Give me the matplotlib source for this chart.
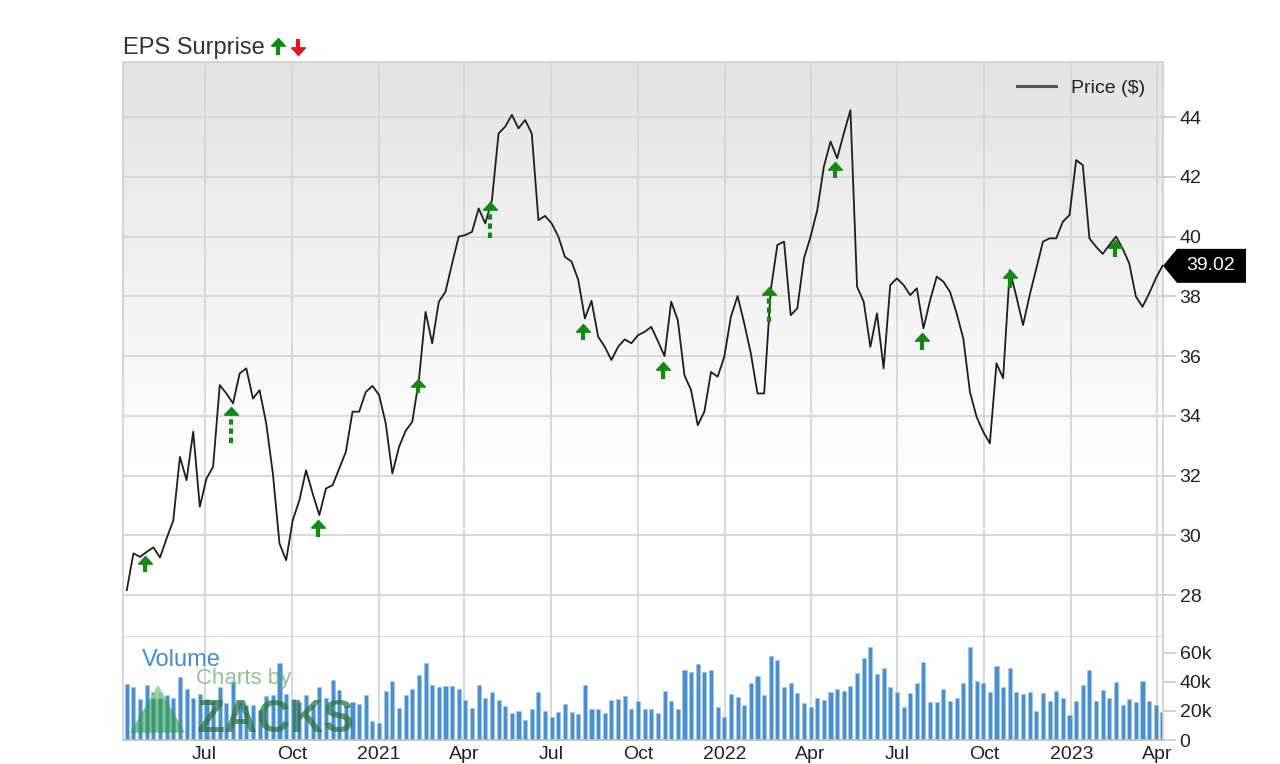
import numpy as np
import pandas as pd
import matplotlib
matplotlib.use('Agg')
import matplotlib.pyplot as plt
from matplotlib.patches import Polygon
from matplotlib.lines import Line2D
from matplotlib.transforms import IdentityTransform

plt.rcParams['font.family'] = ['Liberation Sans', 'DejaVu Sans']

# Cours hebdomadaire ($)
prix = [28.17, 29.40, 29.28, 29.45, 29.60, 29.26, 29.90, 30.50, 32.63, 31.85,
        33.47, 30.96, 31.90, 32.30, 35.03, 34.75, 34.42, 35.42, 35.59, 34.58,
        34.86, 33.75, 32.07, 29.73, 29.17, 30.51, 31.18, 32.18, 31.40, 30.68,
        31.57, 31.68, 32.24, 32.80, 34.14, 34.14, 34.80, 35.00, 34.70, 33.75,
        32.07, 32.96, 33.50, 33.80, 35.20, 37.48, 36.43, 37.82, 38.15, 39.10,
        40.00, 40.05, 40.16, 40.94, 40.44, 41.22, 43.45, 43.68, 44.07, 43.62,
        43.90, 43.45, 40.55, 40.69, 40.44, 40.00, 39.32, 39.16, 38.55, 37.26,
        37.85, 36.65, 36.31, 35.87, 36.31, 36.56, 36.43, 36.70, 36.81, 36.98,
        36.50, 36.00, 37.82, 37.20, 35.36, 34.86, 33.69, 34.14, 35.47, 35.31,
        35.98, 37.32, 38.01, 37.10, 36.09, 34.75, 34.75, 38.21, 39.72, 39.83,
        37.37, 37.60, 39.27, 40.00, 40.88, 42.34, 43.18, 42.62, 43.45, 44.23,
        38.32, 37.82, 36.31, 37.43, 35.59, 38.38, 38.60, 38.38, 38.04, 38.27,
        36.93, 37.87, 38.66, 38.49, 38.15, 37.43, 36.59, 34.80, 33.97, 33.47,
        33.08, 35.76, 35.26, 38.88, 37.99, 37.04, 38.04, 38.94, 39.83, 39.94,
        39.94, 40.50, 40.72, 42.56, 42.39, 39.94, 39.66, 39.42, 39.72, 40.00,
        39.60, 39.10, 37.99, 37.65, 38.10, 38.60, 39.02]

# Volume hebdomadaire (milliers)
volume_k = [38.4, 36.8, 28.3, 37.9, 33.3, 33.0, 31.0, 29.0, 43.7, 35.2,
            28.7, 31.7, 28.3, 27.0, 36.3, 25.7, 40.2, 26.0, 24.0, 24.0,
            20.7, 30.3, 31.0, 52.9, 32.0, 28.0, 26.0, 31.0, 24.0, 36.8,
            28.7, 41.4, 34.5, 23.7, 26.0, 24.8, 31.0, 13.3, 12.0, 33.8,
            40.9, 22.3, 31.0, 34.9, 44.8, 53.3, 37.7, 36.3, 37.2, 37.2,
            34.9, 27.6, 22.3, 37.7, 28.7, 33.3, 27.6, 23.7, 18.4, 20.2,
            13.8, 21.2, 33.3, 20.0, 16.0, 19.5, 24.8, 19.5, 17.9, 37.7,
            21.4, 21.4, 18.4, 27.6, 28.0, 30.6, 21.4, 26.9, 21.2, 21.2,
            18.4, 33.6, 27.1, 21.2, 48.3, 46.9, 52.4, 47.1, 48.3, 22.5,
            16.0, 31.7, 29.9, 24.1, 39.1, 44.4, 31.0, 58.2, 55.2, 36.8,
            39.1, 32.6, 25.3, 22.5, 29.2, 27.6, 33.3, 35.2, 33.8, 37.5,
            46.0, 56.3, 64.4, 45.3, 49.4, 36.3, 32.9, 23.0, 32.6, 39.1,
            54.0, 26.4, 26.4, 34.9, 26.9, 29.2, 39.1, 64.4, 40.9, 39.5,
            32.9, 51.0, 36.8, 49.9, 32.9, 31.5, 33.3, 20.0, 32.6, 26.9,
            34.0, 28.7, 17.2, 26.9, 37.9, 48.3, 26.9, 34.5, 28.7, 40.2,
            24.1, 28.0, 26.0, 40.7, 26.9, 24.1, 19.1]

dates = pd.date_range(end='2023-04-07', periods=len(prix), freq='7D')

# Surprises BPA (flèches vertes)
eps_dates = pd.to_datetime(['2020-04-29', '2020-07-29', '2020-10-29', '2021-02-11',
                            '2021-04-28', '2021-08-04', '2021-10-27', '2022-02-16',
                            '2022-04-27', '2022-07-27', '2022-10-28', '2023-02-16'])
eps_haut = [29.31, 34.30, 30.51, 35.25, 41.17, 37.09, 35.81, 38.32, 42.50, 36.76, 38.88, 39.88]
eps_bas = [28.78, 33.09, 29.95, 34.75, 39.94, 36.54, 35.25, 37.15, 41.95, 36.20, 38.27, 39.32]
eps_pointille = [False, True, False, False, True, False, False, True, False, False, False, False]

prix_ticks = [28, 30, 32, 34, 36, 38, 40, 42, 44]
vol_ticks = [0, 20, 40, 60]
vol_labels = ['0', '20k', '40k', '60k']
mois_ticks = pd.to_datetime(['2020-07-01', '2020-10-01', '2021-01-01', '2021-04-01',
                             '2021-07-01', '2021-10-01', '2022-01-01', '2022-04-01',
                             '2022-07-01', '2022-10-01', '2023-01-01', '2023-04-01'])
mois_labels = ['Jul', 'Oct', '2021', 'Apr', 'Jul', 'Oct', '2022', 'Apr', 'Jul', 'Oct', '2023', 'Apr']

vert = '#128a12'
gris_grille = '#d6d6d6'

# Marqueur triangle dont la pointe est à l'origine
tete = [(-1.0, -1.1), (1.0, -1.1), (0.0, 0.0), (-1.0, -1.1)]

fig = plt.figure(figsize=(12.8, 7.64), dpi=100)
ax = fig.add_axes([0.0961, 0.1662, 0.8125, 0.7526])
axv = fig.add_axes([0.0961, 0.0314, 0.8125, 0.1348], sharex=ax)

# Fond dégradé gris -> blanc
t = np.clip((np.linspace(0, 1, 300) - 0.3) / 0.7, 0, 1)
niveaux = 1 - t * (1 - 0.89)
rgb = np.dstack([niveaux, niveaux, niveaux]).reshape(-1, 1, 3)
ax.imshow(rgb, extent=(0, 1, 0, 1), transform=ax.transAxes, aspect='auto',
          origin='lower', zorder=0)

# Courbe du prix
ax.plot(dates, prix, color='#1e1e1e', lw=1.3, zorder=3, label='Price ($)')

# Flèches des surprises
for d, h, b, p in zip(eps_dates, eps_haut, eps_bas, eps_pointille):
    ls = (0, (1.3, 0.9)) if p else '-'
    ax.plot([d, d], [b, h - 0.2], color=vert, lw=3, ls=ls, solid_capstyle='butt', zorder=4)
    ax.plot([d], [h], marker=tete, markersize=11, color=vert, mec=vert, zorder=5)

ax.set_ylim(26.6, 45.84)
ax.set_xlim(pd.Timestamp('2020-04-06'), pd.Timestamp('2023-04-07 14:00'))
ax.set_yticks(prix_ticks)
ax.yaxis.tick_right()
ax.tick_params(axis='y', length=9, width=1.2, color='#c8c8c8', labelsize=14,
               labelcolor='#222222', pad=3)
ax.tick_params(axis='x', length=0, labelbottom=False)
ax.grid(True, color=gris_grille, lw=1.3)
ax.set_axisbelow(True)
for s in ax.spines.values():
    s.set_color('#cfcfcf')
    s.set_linewidth(1.2)

leg = ax.legend(loc='upper right', frameon=False, fontsize=14, handlelength=2.0,
                borderaxespad=0.5)
leg.get_lines()[0].set_color('#555555')
leg.get_lines()[0].set_linewidth(2.2)
for txt in leg.get_texts():
    txt.set_color('#222222')

# Volume
axv.bar(dates, volume_k, width=4.3, color='#4a8fd0', edgecolor='#9fc6ea', linewidth=0.5, zorder=2)
axv.set_ylim(0, 71)
axv.set_yticks(vol_ticks)
axv.set_yticklabels(vol_labels)
axv.yaxis.tick_right()
axv.tick_params(axis='y', length=9, width=1.2, color='#c8c8c8', labelsize=14,
                labelcolor='#222222', pad=3)
axv.set_xticks(mois_ticks)
axv.set_xticklabels(mois_labels)
axv.tick_params(axis='x', length=0, labelsize=14, labelcolor='#222222', pad=4)
axv.grid(True, axis='x', color=gris_grille, lw=1.3)
axv.set_axisbelow(True)
for s in axv.spines.values():
    s.set_color('#cfcfcf')
    s.set_linewidth(1.2)
axv.spines['top'].set_visible(False)
axv.spines['bottom'].set_color('#bdbdbd')

# Filigrane
axv.text(0.018, 0.78, 'Volume', transform=axv.transAxes, fontsize=17,
         color='#3f8fd2', va='center', zorder=6)
axv.text(0.07, 0.60, 'Charts by', transform=axv.transAxes, fontsize=16,
         color='#6fb06f', alpha=0.75, va='center', zorder=6)
axv.text(0.071, 0.08, 'ZACKS', transform=axv.transAxes, fontsize=33, fontweight='bold',
         color='#2a7436', alpha=0.72, va='baseline', zorder=6)
axv.add_patch(Polygon([(0.0067, 0.07), (0.0597, 0.07), (0.0337, 0.53)], closed=True,
                      transform=axv.transAxes, facecolor='#2f9e45', alpha=0.6,
                      edgecolor='none', zorder=6))
axv.add_patch(Polygon([(0.026, 0.40), (0.0414, 0.40), (0.0337, 0.53)], closed=True,
                      transform=axv.transAxes, facecolor='#a5dca5', alpha=0.7,
                      edgecolor='none', zorder=6))

# Titre et flèches de légende
fig.text(0.0961, 1 - 54 / 764, 'EPS Surprise', fontsize=17, color='#333333', va='baseline')
fig.add_artist(Line2D([277.5 / 1280, 277.5 / 1280], [1 - 55 / 764, 1 - 44 / 764],
                      transform=fig.transFigure, color=vert, lw=3, solid_capstyle='butt'))
fig.add_artist(Line2D([277.5 / 1280], [1 - 38 / 764], transform=fig.transFigure,
                      marker=tete, markersize=11, color=vert, mec=vert))
fig.add_artist(Line2D([298 / 1280, 298 / 1280], [1 - 39 / 764, 1 - 49 / 764],
                      transform=fig.transFigure, color='#e8141b', lw=3, solid_capstyle='butt'))
fig.add_artist(Line2D([298 / 1280], [1 - 55 / 764], transform=fig.transFigure,
                      marker=[(-1.0, 1.1), (1.0, 1.1), (0.0, 0.0), (-1.0, 1.1)],
                      markersize=11, color='#e8141b', mec='#e8141b'))

# Étiquette du dernier cours
px, py = ax.transData.transform((matplotlib.dates.date2num(dates[-1]), prix[-1]))
px = ax.transAxes.transform((1, 0))[0]
etiq = Polygon([(px, py), (px + 14, py + 17), (px + 83, py + 17), (px + 83, py - 17),
                (px + 14, py - 17)], closed=True, transform=IdentityTransform(),
               facecolor='black', edgecolor='none', zorder=10)
fig.add_artist(etiq)
fig.text((px + 48) / 1280, py / 764, '%.2f' % prix[-1], color='white', fontsize=14,
         ha='center', va='center', zorder=11)

fig.savefig('out.png', dpi=100)
